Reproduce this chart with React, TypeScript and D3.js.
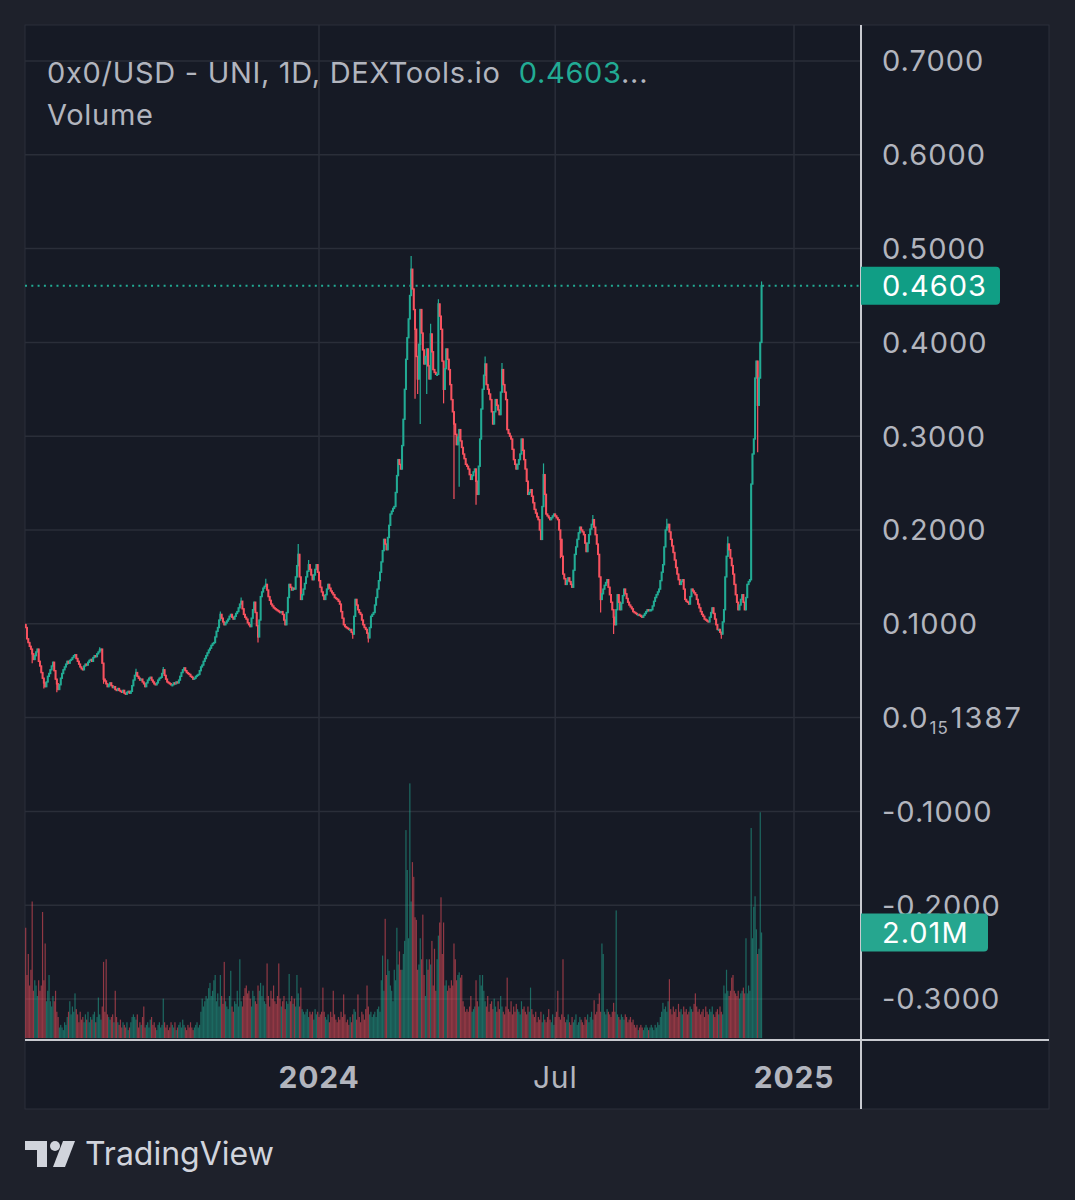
import React from 'react';
import * as d3 from 'd3';

// daily candles, first bar on 2023-05-20
const startDate = new Date(2023, 4, 20);
const firstOpen = 0.099;

// closes in thousandths of a dollar
const closeMilli = [
  96, 84, 80, 76, 73, 68, 62, 66, 70, 73,
  60, 55, 48, 42, 37, 33, 38, 44, 47, 51,
  55, 59, 50, 41, 36, 30, 35, 42, 47, 51,
  54, 57, 60, 58, 61, 62, 64, 66, 67, 63,
  60, 57, 54, 52, 51, 55, 57, 56, 59, 61,
  62, 60, 64, 66, 65, 68, 70, 72, 73, 58,
  41, 39, 36, 33, 35, 37, 34, 32, 33, 30,
  29, 31, 29, 28, 27, 29, 26, 25, 27, 28,
  26, 28, 34, 40, 45, 48, 44, 42, 40, 41,
  38, 36, 33, 37, 40, 42, 43, 40, 38, 36,
  35, 37, 40, 42, 43, 47, 51, 45, 41, 38,
  37, 36, 35, 35, 37, 36, 38, 37, 40, 44,
  48, 51, 53, 50, 48, 47, 46, 44, 43, 41,
  42, 44, 45, 46, 50, 54, 56, 60, 63, 66,
  69, 72, 74, 77, 79, 80, 86, 92, 96, 104,
  110, 106, 102, 99, 101, 103, 105, 108, 110, 107,
  105, 108, 111, 113, 117, 121, 124, 116, 110, 107,
  105, 101, 99, 97, 106, 115, 123, 112, 98, 86,
  104, 129, 134, 138, 140, 142, 136, 129, 125, 121,
  119, 117, 116, 115, 114, 113, 112, 113, 110, 104,
  99, 112, 128, 142, 139, 136, 138, 137, 150, 162,
  174, 150, 126, 131, 137, 143, 150, 156, 163, 158,
  152, 147, 152, 158, 163, 155, 146, 139, 134, 130,
  126, 131, 137, 142, 138, 135, 133, 131, 128, 127,
  126, 124, 121, 113, 106, 99, 97, 96, 95, 94,
  94, 91, 89, 108, 126, 120, 115, 112, 110, 104,
  99, 96, 94, 90, 85, 96, 108, 110, 112, 120,
  128, 137, 146, 155, 166, 178, 190, 185, 179, 192,
  205, 217, 220, 223, 225, 240, 258, 275, 270, 265,
  290, 318, 350, 382, 405, 425, 450, 478, 457, 435,
  414, 385, 361, 398, 435, 410, 392, 377, 385, 393,
  375, 361, 409, 390, 371, 368, 366, 366, 441, 428,
  414, 380, 350, 372, 393, 382, 371, 355, 339, 326,
  313, 302, 291, 299, 307, 295, 288, 281, 276, 270,
  268, 265, 259, 254, 258, 262, 265, 252, 238, 268,
  297, 329, 350, 365, 377, 355, 350, 345, 339, 326,
  313, 326, 339, 333, 328, 323, 347, 371, 355, 347,
  339, 307, 303, 300, 297, 286, 275, 270, 265, 270,
  275, 281, 297, 285, 275, 265, 252, 238, 240, 243,
  236, 229, 222, 218, 214, 211, 200, 190, 225, 259,
  238, 217, 215, 213, 211, 213, 215, 217, 215, 213,
  211, 200, 190, 172, 153, 148, 142, 146, 149, 145,
  142, 139, 157, 174, 182, 190, 197, 203, 200, 198,
  195, 186, 177, 186, 195, 201, 206, 211, 203, 195,
  185, 174, 150, 126, 132, 137, 141, 144, 147, 139,
  131, 123, 115, 107, 99, 115, 131, 123, 115, 122,
  130, 137, 132, 127, 123, 120, 118, 116, 113, 112,
  111, 110, 110, 109, 108, 107, 109, 111, 113, 115,
  114, 115, 115, 119, 124, 128, 131, 134, 137, 146,
  155, 163, 182, 200, 203, 206, 198, 190, 183, 176,
  168, 160, 153, 147, 142, 145, 147, 137, 126, 124,
  123, 121, 129, 137, 135, 133, 131, 126, 121, 117,
  113, 110, 108, 105, 104, 103, 102, 107, 112, 117,
  111, 105, 99, 94, 94, 91, 89, 102, 115, 150,
  172, 185, 179, 170, 162, 153, 142, 131, 123, 115,
  120, 126, 131, 123, 115, 128, 142, 145, 147, 249,
  281, 297, 362, 380, 333, 362, 400, 460.3,
];

// daily volume, millions
const volumeM = [
  2.1, 1.2, 1.6, 1.0, 1.3, 2.6, 0.9, 1.1, 1.0, 0.8,
  1.1, 0.9, 1.0, 2.4, 1.1, 1.8, 0.7, 0.9, 1.2, 0.7,
  0.6, 0.8, 0.7, 0.9, 0.5, 0.4, 0.2, 0.25, 0.2, 0.15,
  0.3, 0.25, 0.4, 0.5, 0.7, 0.45, 0.6, 0.5, 0.85, 0.55,
  0.45, 0.3, 0.5, 0.35, 0.4, 0.3, 0.45, 0.35, 0.5, 0.3,
  0.4, 0.35, 0.45, 0.5, 0.3, 0.4, 0.77, 0.45, 0.35, 0.6,
  1.45, 0.5, 1.5, 0.45, 0.4, 0.35, 0.4, 0.45, 0.3, 0.9,
  0.4, 0.3, 0.25, 0.35, 0.2, 0.3, 0.25, 0.2, 0.3, 0.15,
  0.2, 0.3, 0.4, 0.45, 0.4, 0.35, 0.45, 0.2, 0.3, 0.25,
  0.4, 0.6, 0.2, 0.25, 0.3, 0.2, 0.35, 0.4, 0.25, 0.3,
  0.2, 0.15, 0.25, 0.3, 0.2, 0.25, 0.75, 0.3, 0.2, 0.25,
  0.15, 0.2, 0.3, 0.25, 0.2, 0.3, 0.15, 0.2, 0.25, 0.3,
  0.2, 0.35, 0.25, 0.2, 0.15, 0.25, 0.2, 0.3, 0.2, 0.15,
  0.2, 0.25, 0.3, 0.2, 0.25, 0.5, 0.75, 0.6, 0.7, 0.8,
  0.75, 0.95, 1.05, 0.8, 0.9, 1.1, 1.2, 0.7, 0.85, 0.6,
  1.2, 0.8, 0.65, 1.45, 0.7, 0.6, 0.55, 0.8, 1.28, 0.6,
  0.5, 0.7, 0.65, 0.9, 0.6, 1.5, 0.7, 0.6, 0.8, 0.95,
  1.0, 0.85, 0.9, 0.75, 0.6, 0.9, 0.8, 0.7, 0.65, 1.0,
  0.9, 1.05, 0.8, 1.0, 0.7, 0.65, 1.42, 0.8, 0.6, 0.9,
  0.75, 1.0, 0.7, 0.65, 0.8, 1.42, 0.75, 0.6, 0.7, 0.8,
  0.55, 0.7, 0.65, 1.22, 0.7, 0.8, 0.65, 0.75, 0.6, 1.2,
  0.85, 0.6, 0.96, 0.55, 0.5, 0.45, 0.5, 0.55, 0.4, 0.5,
  0.45, 0.5, 0.35, 0.55, 0.45, 0.5, 0.4, 0.45, 0.5, 0.96,
  0.5, 0.4, 0.35, 0.45, 0.3, 0.5, 0.4, 0.9, 0.45, 0.35,
  0.3, 0.4, 0.35, 0.5, 0.4, 0.83, 0.45, 0.3, 0.35, 0.25,
  0.4, 0.3, 0.45, 0.55, 0.5, 0.35, 0.83, 0.4, 0.3, 0.5,
  0.45, 0.35, 0.55, 1.0, 0.6, 0.45, 0.5, 0.4, 0.45, 0.5,
  0.4, 0.55, 0.6, 0.5, 1.1, 1.57, 0.9, 2.27, 1.2, 1.5,
  1.28, 1.0, 0.9, 0.7, 1.3, 1.1, 2.1, 1.4, 1.65, 1.3,
  1.3, 1.6, 1.85, 3.96, 3.2, 1.9, 4.85, 2.6, 3.35, 3.07,
  2.3, 2.25, 1.3, 1.4, 1.9, 1.5, 2.35, 1.2, 0.8, 1.5,
  1.3, 1.5, 1.4, 1.85, 1.0, 1.7, 0.9, 1.5, 1.95, 2.2,
  2.68, 1.6, 2.2, 1.0, 1.1, 0.9, 1.0, 0.95, 1.1, 1.0,
  1.8, 1.5, 1.1, 1.2, 1.25, 1.15, 1.2, 0.7, 0.6, 0.5,
  0.55, 0.5, 0.6, 0.8, 0.5, 0.55, 0.6, 1.1, 0.7, 0.6,
  1.2, 1.0, 1.2, 0.9, 0.7, 0.6, 0.8, 0.5, 0.65, 0.7,
  0.55, 0.75, 0.6, 0.5, 0.7, 0.55, 0.8, 0.6, 0.5, 0.45,
  0.6, 1.15, 0.55, 0.5, 0.7, 0.45, 0.6, 0.5, 0.65, 0.55,
  0.5, 0.45, 0.7, 0.55, 0.6, 0.5, 0.45, 0.6, 0.5, 0.96,
  0.55, 0.45, 0.4, 0.5, 0.3, 0.4, 0.35, 0.5, 0.3, 0.45,
  0.35, 0.3, 0.4, 0.55, 0.35, 0.3, 0.45, 0.25, 0.4, 0.5,
  0.9, 0.4, 0.35, 0.45, 1.5, 0.4, 0.3, 0.35, 0.45, 0.3,
  0.25, 0.4, 0.3, 0.35, 0.45, 0.25, 0.3, 0.4, 0.35, 0.3,
  0.25, 0.4, 0.35, 0.45, 0.3, 0.4, 0.5, 0.35, 0.72, 0.45,
  0.5, 0.65, 0.85, 0.5, 1.8, 1.6, 0.5, 0.45, 0.55, 0.5,
  0.45, 0.4, 0.5, 0.67, 0.5, 2.43, 0.45, 0.4, 0.35, 0.45,
  0.4, 0.35, 0.45, 0.4, 0.3, 0.35, 0.4, 0.3, 0.35, 0.25,
  0.2, 0.25, 0.15, 0.2, 0.25, 0.2, 0.15, 0.2, 0.25, 0.2,
  0.15, 0.2, 0.25, 0.2, 0.15, 0.25, 0.2, 0.3, 0.25, 0.4,
  0.5, 0.67, 0.55, 0.6, 0.5, 0.7, 1.12, 0.55, 0.45, 0.6,
  0.5, 0.55, 0.4, 0.65, 0.5, 0.55, 0.45, 0.6, 0.5, 0.55,
  0.45, 0.5, 0.6, 0.55, 0.5, 0.65, 0.85, 0.6, 0.5, 0.55,
  0.45, 0.5, 0.55, 0.4, 0.6, 0.5, 0.45, 0.55, 0.5, 0.6,
  0.45, 0.4, 0.5, 0.55, 0.45, 0.6, 0.5, 0.45, 1.0, 0.85,
  1.3, 0.9, 0.8, 0.9, 1.15, 1.2, 0.9, 0.85, 0.8, 0.9,
  0.75, 0.85, 0.9, 0.96, 0.85, 1.9, 0.85, 1.0, 0.9, 4.0,
  1.9, 2.5, 2.7, 2.07, 1.6, 1.7, 4.3, 2.01,
];

// long shadows: [bar index, high, low] in thousandths, 0 = none
const wicks = [
  [0, 100, 0], [5, 0, 58], [14, 0, 31], [24, 0, 27], [57, 75, 0],
  [60, 0, 36], [85, 52, 0], [106, 54, 0], [150, 113, 0], [166, 128, 0],
  [179, 0, 80], [185, 148, 0], [210, 185, 0], [218, 168, 0], [252, 0, 84],
  [264, 0, 80], [297, 492, 0], [300, 0, 340], [302, 0, 345], [304, 0, 313],
  [309, 0, 345], [312, 420, 0], [318, 446, 0], [322, 0, 335], [330, 0, 233],
  [334, 0, 246], [347, 0, 227], [354, 385, 0], [367, 378, 0], [399, 271, 0],
  [412, 0, 170], [437, 216, 0], [443, 0, 112], [453, 0, 89], [494, 212, 0],
  [536, 0, 84], [541, 193, 0], [564, 0, 283], [567, 465, 0],
];

const priceTicks = [0.7, 0.6, 0.5, 0.4, 0.3, 0.2, 0.1, 0, -0.1, -0.2, -0.3];
const timeTickDates = [new Date(2024, 0, 1), new Date(2024, 6, 1), new Date(2025, 0, 1)];
const timeTickLabels = ['2024', 'Jul', '2025'];
const timeTickBold = [true, false, true];

const lastPrice = 0.4603;
const lastVolumeLabel = '2.01M';

const UP = '#22ab94';
const DOWN = '#f7525f';
const TEXT = '#b2b5be';
const GRID = '#2a2e39';
const FONT = 'Inter, Roboto, "DejaVu Sans", sans-serif';

export default function App() {
  const W = 1075;
  const H = 1200;
  const panel = { left: 25, top: 25, right: 1049, bottom: 1109 };
  const plotRight = 861;
  const plotBottom = 1040;

  const x = d3.scaleTime().domain([timeTickDates[0], timeTickDates[2]]).range([319, 794]);
  const y = d3.scaleLinear().domain([-0.3, 0.7]).range([999, 61]);
  const yVol = d3.scaleLinear().domain([0, 1]).range([1038, 985.5]);

  const wickMap = new Map(wicks.map(w => [w[0], w]));
  const candles = closeMilli.map((c, i) => {
    const close = c / 1000;
    const open = i === 0 ? firstOpen : closeMilli[i - 1] / 1000;
    let high = Math.max(open, close);
    let low = Math.min(open, close);
    const w = wickMap.get(i);
    if (w) {
      if (w[1]) high = Math.max(high, w[1] / 1000);
      if (w[2]) low = Math.min(low, w[2] / 1000);
    }
    const date = d3.timeDay.offset(startDate, i);
    return { date, open, close, high, low, vol: volumeM[i], up: close >= open };
  });

  const last = candles[candles.length - 1];
  const fmt = d3.format('.4f');

  return (
    <div style={{ position: 'absolute', left: 0, top: 0 }}>
      <svg width={W} height={H} style={{ display: 'block' }} fontFamily={FONT}>
        <defs>
          <clipPath id="plotClip">
            <rect x={panel.left} y={panel.top} width={plotRight - panel.left} height={plotBottom - panel.top} />
          </clipPath>
        </defs>
        <rect x={0} y={0} width={W} height={H} fill="#1e212b" />
        <rect x={panel.left} y={panel.top} width={panel.right - panel.left} height={panel.bottom - panel.top}
          fill="#161a25" stroke="#2b2f3a" strokeWidth={1} />

        {/* grid */}
        {priceTicks.map(t => (
          <line key={'h' + t} x1={panel.left} x2={plotRight} y1={y(t)} y2={y(t)} stroke={GRID} strokeWidth={1.5} />
        ))}
        {timeTickDates.map((d, i) => (
          <line key={'v' + i} x1={x(d)} x2={x(d)} y1={panel.top} y2={plotBottom} stroke={GRID} strokeWidth={1.5} />
        ))}

        <g clipPath="url(#plotClip)">
          {/* volume */}
          {candles.map((c, i) => (
            <rect key={'vol' + i} x={x(c.date) - 0.6} width={1.2} y={yVol(c.vol)} height={yVol(0) - yVol(c.vol)}
              fill={c.up ? UP : DOWN} fillOpacity={0.55} />
          ))}
          {/* candles */}
          {candles.map((c, i) => {
            const cx = x(c.date);
            const top = y(Math.max(c.open, c.close));
            const bot = y(Math.min(c.open, c.close));
            const col = c.up ? UP : DOWN;
            return (
              <g key={'c' + i}>
                <line x1={cx} x2={cx} y1={y(c.high)} y2={y(c.low)} stroke={col} strokeWidth={1.2} />
                <rect x={cx - 1} width={2} y={top - 0.7} height={Math.max(2.4, bot - top + 1.4)} fill={col} />
              </g>
            );
          })}
          {/* last price line */}
          <line x1={panel.left} x2={plotRight} y1={y(lastPrice)} y2={y(lastPrice)} stroke={UP}
            strokeWidth={2} strokeDasharray="2 4.3" />
        </g>

        {/* axes */}
        <line x1={panel.left} x2={panel.right} y1={plotBottom} y2={plotBottom} stroke="#c8cad0" strokeWidth={2} />
        <line x1={plotRight} x2={plotRight} y1={panel.top} y2={panel.bottom} stroke="#c8cad0" strokeWidth={2} />

        {/* price labels */}
        {priceTicks.map(t => (
          <text key={'pl' + t} x={882} y={y(t)} dy="0.36em" fontSize={29} fill={TEXT} letterSpacing={1}>
            {t === 0 ? (
              <>
                0.0<tspan fontSize={17} dy={6} dx={1}>15</tspan><tspan dy={-6} dx={2} letterSpacing={2}>1387</tspan>
              </>
            ) : fmt(t).replace('−', '-')}
          </text>
        ))}

        {/* time labels */}
        {timeTickDates.map((d, i) => (
          <text key={'tl' + i} x={x(d)} y={1088} textAnchor="middle" fontSize={30} letterSpacing={0.8}
            fontWeight={timeTickBold[i] ? 700 : 400} fill={TEXT}>
            {timeTickLabels[i]}
          </text>
        ))}

        {/* last price tag */}
        <path d={`M${plotRight},${y(lastPrice) - 19} h135 a4,4 0 0 1 4,4 v30 a4,4 0 0 1 -4,4 h-135 z`} fill="#109e85" />
        <text x={882} y={y(lastPrice)} dy="0.36em" fontSize={29} fill="#ffffff" letterSpacing={1}>
          {fmt(lastPrice)}
        </text>

        {/* last volume tag */}
        <path d={`M${plotRight},${yVol(last.vol) - 19} h123 a4,4 0 0 1 4,4 v30 a4,4 0 0 1 -4,4 h-123 z`} fill="#26a68f" />
        <text x={882} y={yVol(last.vol)} dy="0.36em" fontSize={29} fill="#ffffff" letterSpacing={1}>
          {lastVolumeLabel}
        </text>

        {/* legend */}
        <text x={47} y={83} fontSize={29} fill={TEXT} letterSpacing={0.7}>
          0x0/USD - UNI, 1D, DEXTools.io
          <tspan dx={18} fill={UP}>{fmt(lastPrice)}</tspan>
          <tspan>...</tspan>
        </text>
        <text x={47} y={125} fontSize={29} fill={TEXT} letterSpacing={0.7}>Volume</text>

        {/* TradingView mark */}
        <g fill="#d1d4dc">
          <path d="M25,1141 h22 v26 h-10 v-17 h-12 z" />
          <circle cx={55} cy={1146} r={5} />
          <path d="M63,1141 h12 l-10,26 h-12 z" />
        </g>
        <text x={85} y={1165} fontSize={32} fill="#d1d4dc">TradingView</text>
      </svg>
    </div>
  );
}
